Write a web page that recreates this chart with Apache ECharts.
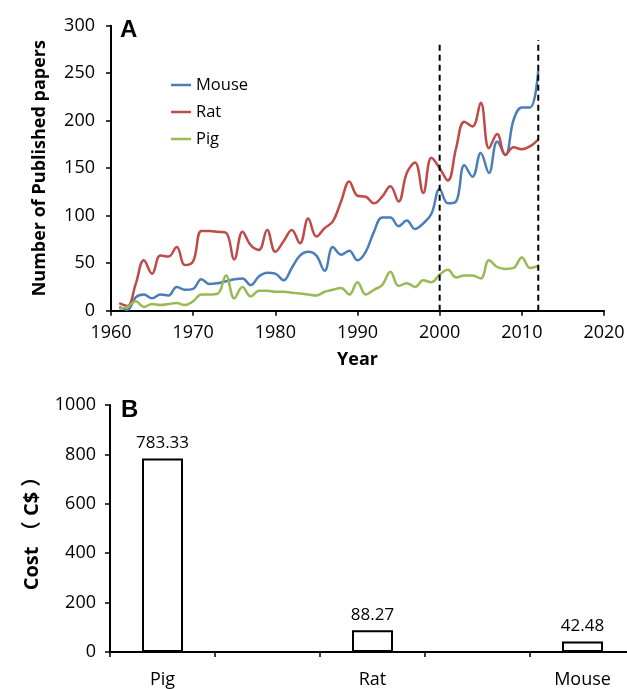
<!DOCTYPE html>
<html>
<head>
<meta charset="utf-8">
<script src="https://cdn.jsdelivr.net/npm/echarts@6/dist/echarts.min.js"></script>
<style>
html,body{margin:0;padding:0;background:#fff;overflow:hidden;}
#c{width:640px;height:689px;}
</style>
</head>
<body>
<div id="c"></div>
<script>
// ---- Panel A: number of published papers per year ----
const years = [1961,1962,1963,1964,1965,1966,1967,1968,1969,1970,
  1971,1972,1973,1974,1975,1976,1977,1978,1979,1980,
  1981,1982,1983,1984,1985,1986,1987,1988,1989,1990,
  1991,1992,1993,1994,1995,1996,1997,1998,1999,2000,
  2001,2002,2003,2004,2005,2006,2007,2008,2009,2010,2011,2012];
const mouse = [4,1,14,17,13,17,16,25,22,23,
  33,28,29,31,33,34,27,36,40,39,
  32,45,58,62,58,42,67,59,63,53,
  62,83,98,98,89,95,86,92,102,128,
  113,115,153,141,166,145,178,164,201,214,214,253];
const rat = [8,5,28,53,39,58,57,67,48,52,
  84,84,83,82,54,83,69,64,85,62,
  73,85,71,97,78,87,94,115,136,121,
  120,113,120,131,115,145,156,124,161,150,
  137,171,199,194,219,171,186,164,172,170,173,180];
const pig = [2,4,10,4,7,6,7,8,6,10,
  17,17,18,37,13,25,15,21,21,20,
  20,19,18,17,16,20,22,24,17,30,
  17,22,27,41,26,29,25,32,30,38,
  43,35,37,37,34,53,46,44,45,56,45,47];
const seriesNames = ['Mouse','Rat','Pig'];
const seriesColors = ['#4A7EBB','#BE4B48','#98B954'];
const refYears = [2000, 2012];
const refTops = [280, 285];
const yearTicks = {min:1960, max:2020, interval:10};
const paperTicks = {min:0, max:300, interval:50};

// ---- Panel B: cost per animal ----
const costAnimals = ['Pig','Rat','Mouse'];
const costs = [783.33, 88.27, 42.48];
const costTicks = {min:0, max:1000, interval:200};

const FONT = '"Open Sans", "Noto Sans CJK SC", sans-serif';
const zip = (xs, ys) => xs.map((x, i) => [x, ys[i]]);

// category slots: each animal followed by an empty slot
const costCats = [];
const costData = [];
costAnimals.forEach((a, i) => {
  costCats.push(a); costData.push(costs[i]);
  if (i < costAnimals.length - 1) { costCats.push(''); costData.push(null); }
});

const axisLine = {show:true, lineStyle:{color:'#000', width:2}};
const axisTick = {show:true, length:5, lineStyle:{color:'#000', width:1.5}};
const labelStyle = {color:'#000', fontSize:18, fontFamily:FONT, formatter:v => String(v)};
const lineSeries = [mouse, rat, pig].map((vals, i) => ({
  name:seriesNames[i], type:'line', xAxisIndex:0, yAxisIndex:0, data:zip(years, vals),
  smooth:0.4, symbol:'none', lineStyle:{width:2.5, color:seriesColors[i]}, itemStyle:{color:seriesColors[i]}
}));

const chart = echarts.init(document.getElementById('c'), null, {renderer:'canvas'});
chart.setOption({
  animation:false,
  backgroundColor:'#fff',
  grid:[
    {left:111, top:25.7, width:493, height:285, containLabel:false},
    {left:110, top:405, width:525, height:249, containLabel:false}
  ],
  graphic:[
    {type:'text', left:120, top:18, style:{text:'A', font:'bold 24px "Liberation Sans", Arial, sans-serif', fill:'#000'}},
    {type:'text', left:121, top:398, style:{text:'B', font:'bold 24px "Liberation Sans", Arial, sans-serif', fill:'#000'}}
  ],
  legend:{
    data:seriesNames, orient:'vertical', left:166, top:70, icon:'rect',
    itemWidth:20, itemHeight:2.5, itemGap:7,
    textStyle:{color:'#000', fontSize:16.5, fontFamily:FONT, lineHeight:20}
  },
  xAxis:[
    {gridIndex:0, type:'value', min:yearTicks.min, max:yearTicks.max, interval:yearTicks.interval,
     axisLine:axisLine, axisTick:axisTick, splitLine:{show:false},
     axisLabel:Object.assign({margin:13}, labelStyle),
     name:'Year', nameLocation:'middle', nameGap:40,
     nameTextStyle:{color:'#000', fontSize:18, fontWeight:'bold', fontFamily:FONT}},
    {gridIndex:1, type:'category', data:costCats, boundaryGap:true,
     axisLine:axisLine, axisTick:Object.assign({interval:0}, axisTick),
     axisLabel:{margin:19, interval:0, color:'#000', fontSize:18, fontFamily:FONT}, splitLine:{show:false}}
  ],
  yAxis:[
    {gridIndex:0, type:'value', min:paperTicks.min, max:paperTicks.max, interval:paperTicks.interval,
     axisLine:axisLine, axisTick:axisTick, splitLine:{show:false},
     axisLabel:Object.assign({margin:16}, labelStyle),
     name:'Number of Published papers', nameLocation:'middle', nameGap:62,
     nameTextStyle:{color:'#000', fontSize:18, fontWeight:'bold', fontFamily:FONT}},
    {gridIndex:1, type:'value', min:costTicks.min, max:costTicks.max, interval:costTicks.interval,
     axisLine:axisLine, axisTick:axisTick, splitLine:{show:false},
     axisLabel:Object.assign({margin:14}, labelStyle),
     name:'Cost （ C$ ）', nameLocation:'middle', nameGap:68,
     nameTextStyle:{color:'#000', fontSize:20, fontWeight:'bold', fontFamily:FONT}}
  ],
  series:[
    ...lineSeries,
    ...refYears.map((yr, i) => ({
      name:'ref' + yr, type:'line', xAxisIndex:0, yAxisIndex:0,
      data:[[yr, 0], [yr, refTops[i]]], symbol:'none', silent:true,
      lineStyle:{color:'#000', width:2, type:[6,4]}
    })),
    {name:'Cost', type:'bar', xAxisIndex:1, yAxisIndex:1, data:costData, barWidth:41,
     itemStyle:{color:'#fff', borderColor:'#000', borderWidth:2},
     label:{show:true, position:'top', distance:7, color:'#000', fontSize:17, fontFamily:FONT,
            formatter:p => p.value.toFixed(2)}}
  ]
});
</script>
</body>
</html>
